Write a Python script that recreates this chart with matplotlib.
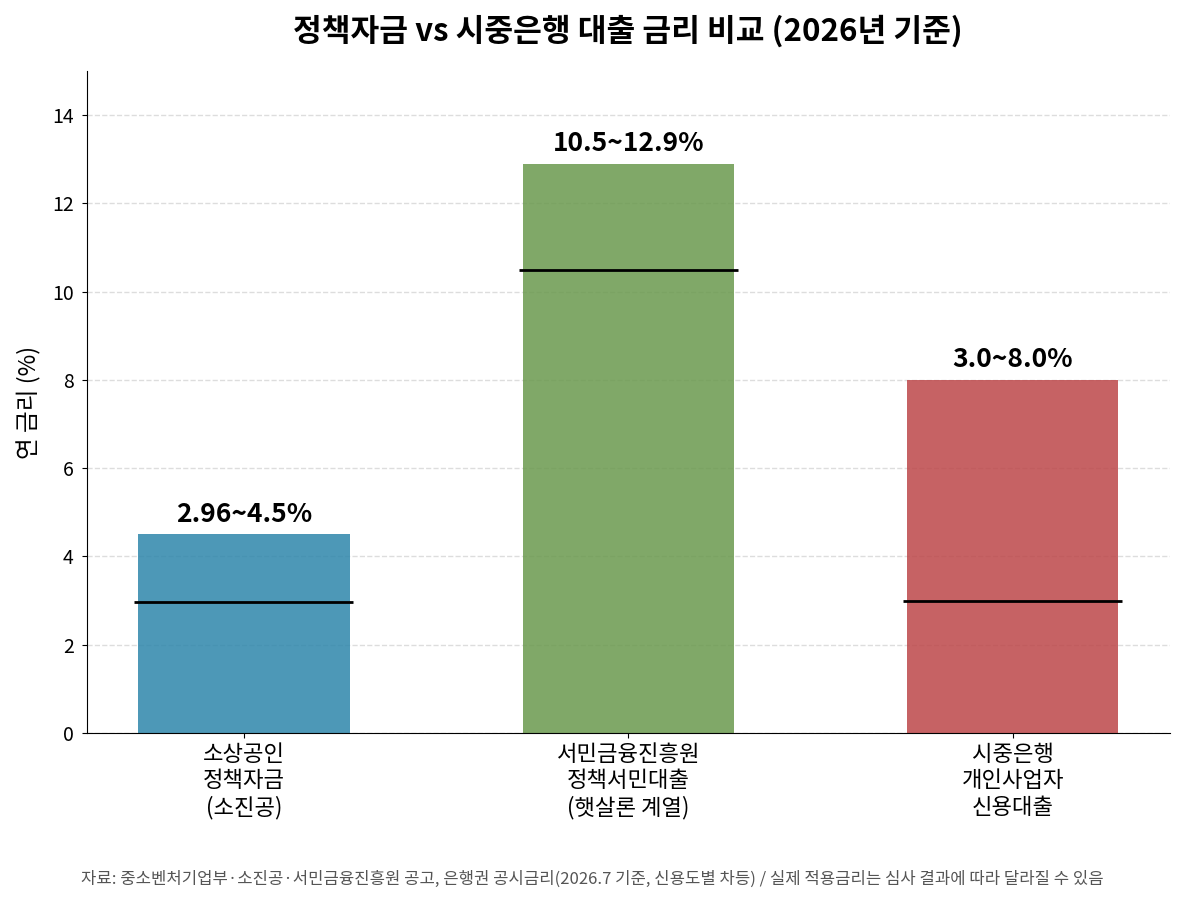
import matplotlib
matplotlib.use("Agg")
import matplotlib.pyplot as plt

plt.rcParams['font.family'] = ['Noto Sans CJK KR', 'DejaVu Sans']

categories = ["소상공인\n정책자금\n(소진공)", "서민금융진흥원\n정책서민대출\n(햇살론 계열)", "시중은행\n개인사업자\n신용대출"]
rate_min = [2.96, 10.5, 3.0]
rate_max = [4.5, 12.9, 8.0]
labels = ["2.96~4.5%", "10.5~12.9%", "3.0~8.0%"]
colors = ["#2E86AB", "#6A994E", "#BC4749"]

fig = plt.figure(figsize=(11.85, 9.02), dpi=100)
ax = fig.add_axes([0.0734, 0.1874, 0.9136, 0.7339])

x = range(len(categories))
ax.bar(x, rate_max, width=0.55, color=colors, alpha=0.85, zorder=2)
for i in x:
    ax.hlines(rate_min[i], i - 0.285, i + 0.285, color="black", linewidth=2, zorder=3)
    ax.text(i, rate_max[i] + 0.15, labels[i], ha="center", va="bottom",
            fontsize=19, fontweight="bold")

ax.set_xticks(list(x))
ax.set_xticklabels(categories, fontsize=16)
ax.tick_params(axis="y", labelsize=14, pad=6)
ax.set_ylim(0, 15)
ax.set_xlim(-0.408, 2.408)
ax.set_ylabel("연 금리 (%)", fontsize=17, labelpad=8)
ax.grid(axis="y", linestyle="--", color="#dddddd", linewidth=1, zorder=0)
ax.spines["top"].set_visible(False)
ax.spines["right"].set_visible(False)

ax.set_title("정책자금 vs 시중은행 대출 금리 비교 (2026년 기준)", fontsize=22.5,
             fontweight="bold", pad=22)
fig.text(0.5, 0.020, "자료: 중소벤처기업부·소진공·서민금융진흥원 공고, 은행권 공시금리(2026.7 기준, 신용도별 차등) / 실제 적용금리는 심사 결과에 따라 달라질 수 있음",
         ha="center", fontsize=12, color="#555555")

fig.savefig("out.png", dpi=100)
